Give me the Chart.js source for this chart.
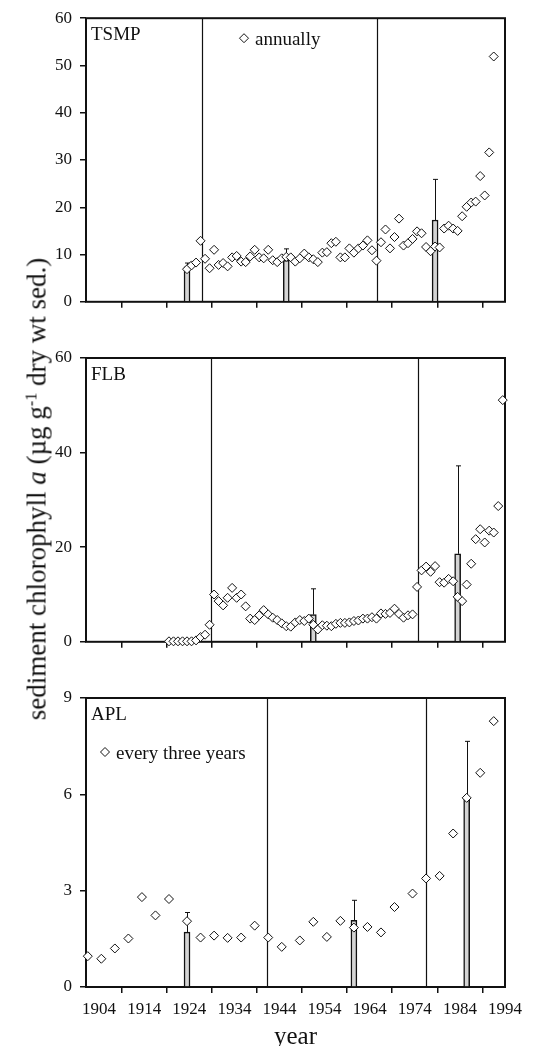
<!DOCTYPE html>
<html>
<head>
<meta charset="utf-8">
<script src="https://cdn.jsdelivr.net/npm/chart.js@4.4.1/dist/chart.umd.min.js"></script>
<style>
  html, body { margin: 0; padding: 0; background: #fff; }
  #wrap { position: relative; width: 542px; height: 1046px; overflow: hidden; }
  canvas { position: absolute; left: 0; }
  #c-tsmp { top: 0; }
  #c-flb { top: 320px; }
  #c-apl { top: 660px; }
  #ytitle {
    position: absolute; left: 37px; top: 489px;
    transform: translate(-50%, -50%) rotate(-90deg);
    white-space: nowrap; color: #111;
    font: 27px "Liberation Serif", "Times New Roman", serif;
    line-height: 1;
  }
  #ytitle sup { font-size: 0.6em; vertical-align: 0.55em; line-height: 0; }
</style>
</head>
<body>
<div id="wrap">
  <canvas id="c-tsmp" width="542" height="320"></canvas>
  <canvas id="c-flb" width="542" height="340"></canvas>
  <canvas id="c-apl" width="542" height="386"></canvas>
  <div id="ytitle">sediment chlorophyll <i>a</i> (µg g<sup>-1</sup> dry wt sed.)</div>
</div>
<script>
// --- data ---
const xTickYears = [1904, 1914, 1924, 1934, 1944, 1954, 1964, 1974, 1984, 1994];

// TSMP, sampled annually
const tsmpYears = [1923, 1924, 1925, 1926, 1927, 1928, 1929, 1930, 1931, 1932,
  1933, 1934, 1935, 1936, 1937, 1938, 1939, 1940, 1941, 1942,
  1943, 1944, 1945, 1946, 1947, 1948, 1949, 1950, 1951, 1952,
  1953, 1954, 1955, 1956, 1957, 1958, 1959, 1960, 1961, 1962,
  1963, 1964, 1965, 1966, 1967, 1968, 1969, 1970, 1971, 1972,
  1973, 1974, 1975, 1976, 1977, 1978, 1979, 1980, 1981, 1982,
  1983, 1984, 1985, 1986, 1987, 1988, 1989, 1990, 1991];
const tsmpChl = [6.9, 7.7, 8.3, 12.9, 9.1, 7.1, 11.0, 7.8, 8.2, 7.5,
  9.4, 9.7, 8.5, 8.4, 9.6, 11.0, 9.4, 9.2, 11.0, 8.8,
  8.4, 9.2, 9.5, 9.4, 8.5, 9.2, 10.2, 9.4, 9.0, 8.4,
  10.4, 10.5, 12.4, 12.7, 9.4, 9.4, 11.3, 10.4, 11.3, 11.9,
  13.0, 10.9, 8.7, 12.6, 15.3, 11.3, 13.7, 17.6, 11.9, 12.4,
  13.3, 14.9, 14.5, 11.6, 10.7, 11.7, 11.5, 15.5, 16.1, 15.5,
  15.0, 18.1, 20.1, 21.0, 21.2, 26.6, 22.5, 31.6, 51.9];
const tsmpBarYears = [1923, 1945, 1978];
const tsmpBarMean = [7.4, 8.8, 17.3];
const tsmpBarUpper = [8.2, 11.2, 25.9];
const tsmpZoneBreaks = [1926.8, 1965.6];
const tsmpYTicks = [0, 10, 20, 30, 40, 50, 60];

// FLB, sampled annually
const flbYears = [1919, 1920, 1921, 1922, 1923, 1924, 1925, 1926, 1927, 1928,
  1929, 1930, 1931, 1932, 1933, 1934, 1935, 1936, 1937, 1938,
  1939, 1940, 1941, 1942, 1943, 1944, 1945, 1946, 1947, 1948,
  1949, 1950, 1951, 1952, 1953, 1954, 1955, 1956, 1957, 1958,
  1959, 1960, 1961, 1962, 1963, 1964, 1965, 1966, 1967, 1968,
  1969, 1970, 1971, 1972, 1973, 1974, 1975, 1976, 1977, 1978,
  1979, 1980, 1981, 1982, 1983, 1984, 1985, 1986, 1987, 1988,
  1989, 1990, 1991, 1992, 1993];
const flbChl = [0.1, 0.1, 0.1, 0.1, 0.1, 0.1, 0.3, 1.0, 1.5, 3.6,
  10.0, 8.6, 7.7, 9.3, 11.4, 9.3, 10.0, 7.5, 4.9, 4.6,
  5.6, 6.7, 5.8, 5.1, 4.6, 3.9, 3.3, 3.2, 4.1, 4.6,
  4.4, 4.9, 3.6, 2.6, 3.5, 3.4, 3.3, 3.8, 4.0, 4.0,
  4.1, 4.4, 4.5, 4.9, 4.9, 5.2, 4.9, 6.0, 5.9, 6.1,
  7.0, 5.9, 5.1, 5.6, 5.8, 11.6, 15.1, 15.9, 14.8, 16.0,
  12.6, 12.5, 13.3, 12.8, 9.5, 8.6, 12.1, 16.5, 21.7, 23.8,
  21.0, 23.5, 23.1, 28.7, 51.1];
const flbBarYears = [1951, 1983];
const flbBarMean = [5.75, 18.6];
const flbBarUpper = [11.2, 37.2];
const flbZoneBreaks = [1928.8, 1974.6];
const flbYTicks = [0, 20, 40, 60];

// APL, sampled every three years
const aplYears = [1901, 1904, 1907, 1910, 1913, 1916, 1919, 1923, 1926, 1929,
  1932, 1935, 1938, 1941, 1944, 1948, 1951, 1954, 1957, 1960,
  1963, 1966, 1969, 1973, 1976, 1979, 1982, 1985, 1988, 1991];
const aplChl = [0.96, 0.88, 1.20, 1.51, 2.80, 2.23, 2.74, 2.05, 1.54, 1.60,
  1.53, 1.54, 1.91, 1.54, 1.25, 1.45, 2.03, 1.56, 2.06, 1.85,
  1.87, 1.70, 2.49, 2.91, 3.38, 3.46, 4.78, 5.89, 6.67, 8.28];
const aplBarYears = [1923, 1960, 1985];
const aplBarMean = [1.71, 2.08, 5.9];
const aplBarUpper = [2.32, 2.70, 7.65];
const aplZoneBreaks = [1941.2, 1976.5];
const aplYTicks = [0, 3, 6, 9];

// samples are plotted at mid-year
const MID_YEAR = 0.5;
const INK = '#111';
const SERIF = '"Liberation Serif", "Times New Roman", serif';

// --- decorations: frame, zone lines, error bars, panel label, legend ---
const panelDecor = {
    id: 'panelDecor',
    beforeDatasetsDraw(chart, args, opts) {
        const { ctx, chartArea: area, scales } = chart;
        ctx.save();
        ctx.strokeStyle = INK;
        ctx.lineWidth = 1.2;
        opts.breaks.forEach(yr => {
            const x = Math.round(scales.x.getPixelForValue(yr)) + 0.5;
            ctx.beginPath();
            ctx.moveTo(x, area.top);
            ctx.lineTo(x, area.bottom);
            ctx.stroke();
        });
        ctx.lineWidth = 2;
        ctx.strokeRect(area.left, area.top, area.right - area.left, area.bottom - area.top);

        ctx.fillStyle = INK;
        ctx.font = `19px ${SERIF}`;
        ctx.textBaseline = 'alphabetic';
        ctx.fillText(opts.label, area.left + 5, area.top + 22);
        if (opts.legend) {
            const lg = opts.legend;
            ctx.lineWidth = 1;
            ctx.fillStyle = '#fff';
            Chart.helpers.drawPoint(ctx, { pointStyle: 'rectRot', radius: 4.5, borderWidth: 1 },
                area.left + lg.dx, area.top + lg.dy);
            ctx.fillStyle = INK;
            ctx.fillText(lg.text, area.left + lg.dx + 11, area.top + lg.dy + 7);
        }
        ctx.restore();
    },
    afterDatasetDraw(chart, args, opts) {
        if (args.meta.type !== 'bar') return;
        const { ctx, scales } = chart;
        const upper = opts.upper;
        ctx.save();
        ctx.strokeStyle = INK;
        ctx.lineWidth = 1;
        args.meta.data.forEach((bar, i) => {
            const x = Math.round(bar.x) + 0.5;
            const yTop = scales.y.getPixelForValue(upper[i]);
            ctx.beginPath();
            ctx.moveTo(x, bar.y);
            ctx.lineTo(x, yTop);
            ctx.moveTo(x - 2.5, yTop);
            ctx.lineTo(x + 2.5, yTop);
            ctx.stroke();
        });
        ctx.restore();
    }
};

function makePanel(canvasId, p) {
    const points = p.years.map((yr, i) => ({ x: yr + MID_YEAR, y: p.values[i] }));
    const bars = p.barYears.map((yr, i) => ({ x: yr + MID_YEAR, y: p.barMean[i] }));

    return new Chart(document.getElementById(canvasId), {
        type: 'scatter',
        data: {
            datasets: [{
                type: 'scatter',
                data: points,
                pointStyle: 'rectRot',
                pointRadius: 4.5,
                pointHoverRadius: 4.5,
                borderWidth: 1,
                borderColor: INK,
                backgroundColor: '#fff',
                clip: false,
                order: 0
            }, {
                type: 'bar',
                data: bars,
                barThickness: 6,
                backgroundColor: '#d4d4d4',
                borderColor: INK,
                borderWidth: 1.5,
                order: 1
            }]
        },
        options: {
            responsive: false,
            animation: false,
            events: [],
            layout: { padding: { top: p.padTop, right: 37, left: 0, bottom: 0 } },
            plugins: {
                legend: { display: false },
                tooltip: { enabled: false },
                panelDecor: {
                    breaks: p.breaks,
                    upper: p.barUpper,
                    label: p.label,
                    legend: p.legend
                }
            },
            scales: {
                x: {
                    type: 'linear',
                    min: 1901.1,
                    max: 1994,
                    offset: false,
                    afterBuildTicks: scale => { scale.ticks = xTickYears.map(v => ({ value: v })); },
                    afterFit: scale => { scale.height = p.xHeight; },
                    border: { display: false },
                    grid: { drawOnChartArea: false, drawTicks: true, tickLength: 6, color: INK, lineWidth: 1.5 },
                    ticks: {
                        color: INK,
                        padding: 6,
                        maxRotation: 0,
                        autoSkip: false,
                        font: { family: SERIF, size: 17 },
                        callback: v => p.showYears ? String(v) : ''
                    },
                    title: {
                        display: p.showYears,
                        text: 'year',
                        color: INK,
                        padding: { top: 0, bottom: 0 },
                        font: { family: SERIF, size: 25, lineHeight: 0.72 }
                    }
                },
                y: {
                    type: 'linear',
                    min: 0,
                    max: p.yTicks[p.yTicks.length - 1],
                    afterBuildTicks: scale => { scale.ticks = p.yTicks.map(v => ({ value: v })); },
                    afterFit: scale => { scale.width = 86; },
                    border: { display: false },
                    grid: { drawOnChartArea: false, drawTicks: true, tickLength: 6, color: INK, lineWidth: 1.5 },
                    ticks: {
                        color: INK,
                        padding: 8,
                        font: { family: SERIF, size: 17 }
                    }
                }
            }
        },
        plugins: [panelDecor]
    });
}

document.addEventListener('DOMContentLoaded', function() {
    makePanel('c-tsmp', {
        years: tsmpYears, values: tsmpChl,
        barYears: tsmpBarYears, barMean: tsmpBarMean, barUpper: tsmpBarUpper,
        breaks: tsmpZoneBreaks, yTicks: tsmpYTicks,
        label: 'TSMP', legend: { text: 'annually', dx: 158, dy: 20 },
        padTop: 16, xHeight: 18, showYears: false
    });
    makePanel('c-flb', {
        years: flbYears, values: flbChl,
        barYears: flbBarYears, barMean: flbBarMean, barUpper: flbBarUpper,
        breaks: flbZoneBreaks, yTicks: flbYTicks,
        label: 'FLB', legend: null,
        padTop: 38, xHeight: 18, showYears: false
    });
    makePanel('c-apl', {
        years: aplYears, values: aplChl,
        barYears: aplBarYears, barMean: aplBarMean, barUpper: aplBarUpper,
        breaks: aplZoneBreaks, yTicks: aplYTicks,
        label: 'APL', legend: { text: 'every three years', dx: 19, dy: 54 },
        padTop: 38, xHeight: 59, showYears: true
    });
});
</script>
</body>
</html>
